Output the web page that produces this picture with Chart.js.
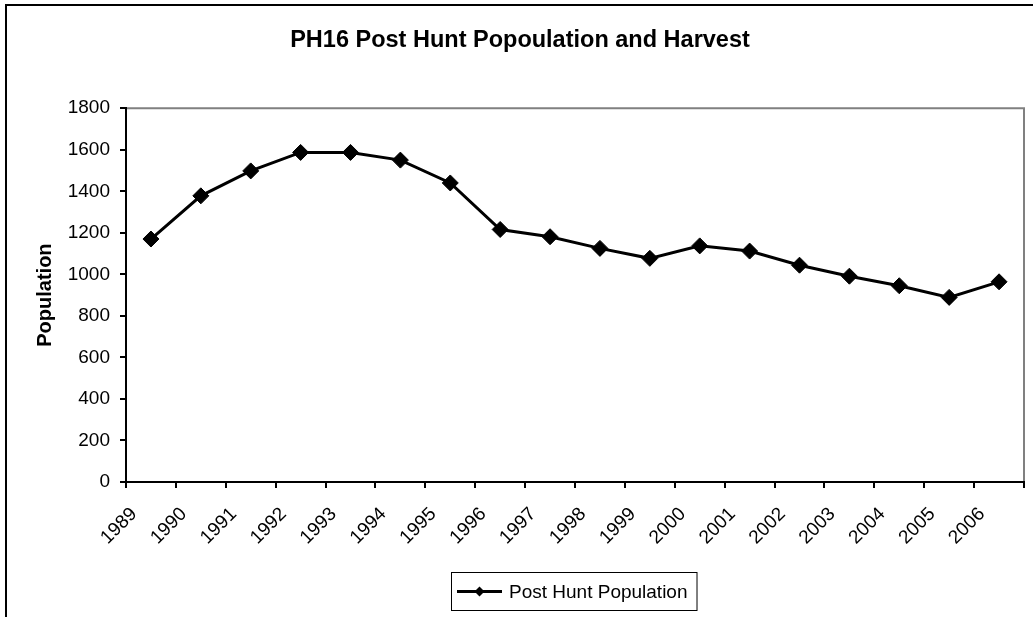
<!DOCTYPE html>
<html>
<head>
<meta charset="utf-8">
<script src="https://cdn.jsdelivr.net/npm/chart.js@4/dist/chart.umd.min.js"></script>
<style>
  html, body { margin: 0; padding: 0; background: #fff; }
  #wrap { width: 1033px; height: 617px; position: relative; }
</style>
</head>
<body>
<div id="wrap"><canvas id="phChart"></canvas></div>
<script>
// chart data
const years = ['1989', '1990', '1991', '1992', '1993', '1994', '1995', '1996', '1997',
               '1998', '1999', '2000', '2001', '2002', '2003', '2004', '2005', '2006'];
const postHuntPopulation = [1170, 1378, 1498, 1587, 1587, 1550, 1440, 1216, 1181,
                            1125, 1077, 1137, 1112, 1044, 991, 945, 889, 964];
const yTicks = [0, 200, 400, 600, 800, 1000, 1200, 1400, 1600, 1800];

const chartTitle = 'PH16 Post Hunt Popoulation and Harvest';
const yTitle = 'Population';
const seriesName = 'Post Hunt Population';

const FONT = '"Liberation Sans", Arial, sans-serif';

// outer frame + grey top/right edge of the plot area
const framePlugin = {
    id: 'frame',
    beforeDraw(chart) {
        const ctx = chart.ctx;
        const a = chart.chartArea;
        ctx.save();
        ctx.strokeStyle = '#000';
        ctx.lineWidth = 2;
        ctx.beginPath();
        ctx.moveTo(6, 617);
        ctx.lineTo(6, 5);
        ctx.lineTo(1033, 5);
        ctx.stroke();
        ctx.strokeStyle = '#808080';
        ctx.lineWidth = 2;
        ctx.beginPath();
        ctx.moveTo(a.left, a.top);
        ctx.lineTo(a.right, a.top);
        ctx.lineTo(a.right, a.bottom);
        ctx.stroke();
        ctx.restore();
    }
};

// excel style legend box under the plot
const boxLegend = {
    id: 'boxLegend',
    afterDraw(chart) {
        const ctx = chart.ctx;
        const a = chart.chartArea;
        const ds = chart.data.datasets[0];
        ctx.save();
        ctx.font = '19px ' + FONT;
        const tw = ctx.measureText(ds.label).width;
        const w = 6 + 45 + 7 + tw + 9;
        const h = 38;
        const left = Math.round((a.left + a.right) / 2 - w / 2) - 1;
        const top = 572;
        ctx.strokeStyle = '#000';
        ctx.lineWidth = 1;
        ctx.strokeRect(left + 0.5, top + 0.5, w, h);
        const cy = top + h / 2 + 0.5;
        ctx.lineWidth = 3;
        ctx.beginPath();
        ctx.moveTo(left + 6, cy);
        ctx.lineTo(left + 51, cy);
        ctx.stroke();
        const mx = left + 28.5;
        ctx.fillStyle = '#000';
        ctx.beginPath();
        ctx.moveTo(mx - 5, cy);
        ctx.lineTo(mx, cy - 5);
        ctx.lineTo(mx + 5, cy);
        ctx.lineTo(mx, cy + 5);
        ctx.closePath();
        ctx.fill();
        ctx.textBaseline = 'middle';
        ctx.fillText(ds.label, left + 58, cy + 1);
        ctx.restore();
    }
};

Chart.defaults.font.family = FONT;
Chart.defaults.color = '#000';

const ctx = document.getElementById('phChart').getContext('2d');
const phChart = new Chart(ctx, {
    type: 'line',
    data: {
        labels: years,
        datasets: [{
            label: seriesName,
            data: postHuntPopulation,
            borderColor: '#000',
            backgroundColor: '#000',
            borderWidth: 3,
            tension: 0,
            pointStyle: 'rectRot',
            pointRadius: 8,
            pointHoverRadius: 8,
            pointBorderWidth: 1,
            pointBackgroundColor: '#000',
            pointBorderColor: '#000'
        }]
    },
    options: {
        responsive: true,
        maintainAspectRatio: false,
        animation: false,
        layout: { padding: { left: 14, right: 7, top: 0, bottom: 0 } },
        plugins: {
            legend: { display: false },
            tooltip: { enabled: false },
            title: {
                display: true,
                text: chartTitle,
                font: { size: 23.5, weight: 'bold' },
                padding: { top: 26, bottom: 54 }
            }
        },
        scales: {
            x: {
                offset: true,
                grid: {
                    offset: true,
                    drawOnChartArea: false,
                    drawTicks: true,
                    tickLength: 6,
                    color: '#000',
                    lineWidth: 2
                },
                border: { display: true, color: '#000', width: 2 },
                ticks: {
                    font: { size: 19 },
                    maxRotation: 45,
                    minRotation: 45,
                    autoSkip: false,
                    padding: 15,
                    labelOffset: -17
                },
                afterFit(scale) { scale.height = 135; }
            },
            y: {
                min: 0,
                max: 1800,
                afterBuildTicks(scale) { scale.ticks = yTicks.map(v => ({ value: v })); },
                grid: {
                    drawOnChartArea: false,
                    drawTicks: true,
                    tickLength: 6,
                    color: '#000',
                    lineWidth: 2
                },
                border: { display: true, color: '#000', width: 2 },
                ticks: {
                    font: { size: 19 },
                    padding: 10,
                    callback: (v) => String(v)
                },
                title: {
                    display: true,
                    text: yTitle,
                    font: { size: 20, weight: 'bold' },
                    padding: { top: 19, bottom: 0 }
                },
                afterFit(scale) { scale.width = 112; }
            }
        }
    },
    plugins: [framePlugin, boxLegend]
});
</script>
</body>
</html>
